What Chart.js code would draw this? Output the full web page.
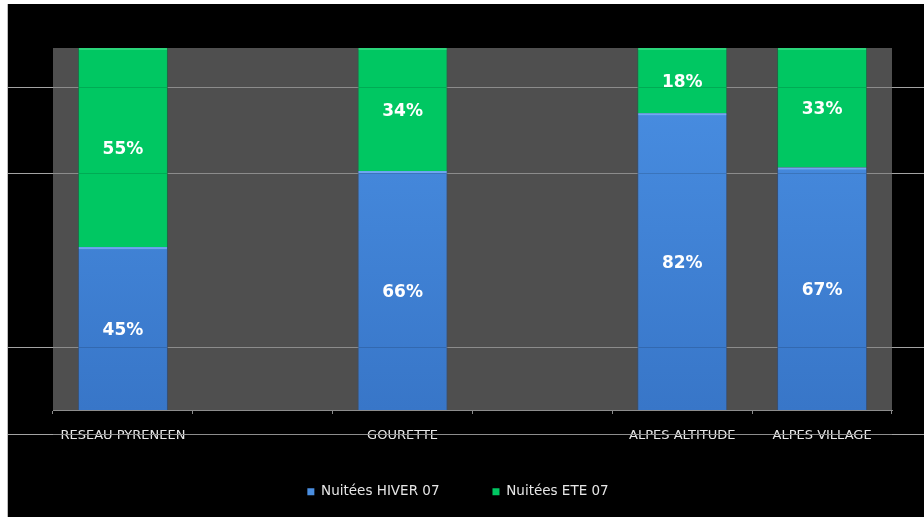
<!DOCTYPE html>
<html>
<head>
<meta charset="utf-8">
<script src="https://cdn.jsdelivr.net/npm/chart.js@4.4.1/dist/chart.umd.min.js"></script>
<style>
  html, body { margin: 0; padding: 0; background: #ffffff; width: 924px; height: 517px; overflow: hidden; }
  #panel { position: absolute; left: 7px; top: 4px; width: 916px; height: 513px; background: #000; border-left: 1px solid #bdbdbd; }
  canvas { display: block; }
</style>
</head>
<body>
<div id="panel"><canvas id="c" width="916" height="513"></canvas></div>
<script>
// ---- data ----
const categories = ["RESEAU PYRENEEN", "", "GOURETTE", "", "ALPES ALTITUDE", "ALPES VILLAGE"];
const seriesNames = ["Nuitées HIVER 07", "Nuitées ETE 07"];
const hiver = [45, null, 66, null, 82, 67];
const ete = [55, null, 34, null, 18, 33];
const yMin = 0;
const yMax = 100;

// decorative horizontal rules of the slide (fractions of panel height)
const ruleFractions = [83/513, 169/513, 343/513, 430/513];

function vGrad(ctx, top, bottom) {
  const chart = ctx.chart;
  const a = chart.chartArea;
  if (!a) return top;
  const g = chart.ctx.createLinearGradient(0, a.top, 0, a.bottom);
  g.addColorStop(0, top);
  g.addColorStop(1, bottom);
  return g;
}

const decor = {
  id: 'decor',
  afterLayout(chart) {
    // let the category labels extend below the (compacted) axis box without being clipped
    const x = chart.scales.x;
    if (x) x.bottom = chart.height;
  },
  beforeDraw(chart) {
    const {ctx, chartArea: a} = chart;
    ctx.save();
    ctx.fillStyle = '#4f4f4f';
    ctx.fillRect(a.left, a.top, a.right - a.left, a.bottom - a.top);
    ctx.restore();
  },
  beforeDatasetsDraw(chart) {
    const {ctx, width, height} = chart;
    ctx.save();
    ctx.strokeStyle = '#a3a3a3';
    ctx.lineWidth = 1;
    ruleFractions.forEach(f => {
      const y = Math.round(f * height) + 0.5;
      ctx.beginPath();
      ctx.moveTo(0, y);
      ctx.lineTo(width, y);
      ctx.stroke();
    });
    ctx.restore();
  },
  afterDatasetsDraw(chart) {
    const {ctx, width, height} = chart;
    ctx.save();
    chart.data.datasets.forEach((ds, di) => {
      const meta = chart.getDatasetMeta(di);
      meta.data.forEach((el, i) => {
        if (ds.data[i] == null) return;
        const w = el.width;
        ctx.fillStyle = di === 0 ? 'rgba(140,190,255,0.6)' : 'rgba(120,240,170,0.35)';
        ctx.fillRect(el.x - w / 2 + 1, el.y, w - 2, 2);
      });
    });
    ctx.strokeStyle = 'rgba(0,0,0,0.14)';
    ruleFractions.forEach(f => {
      const y = Math.round(f * height) + 0.5;
      ctx.beginPath();
      ctx.moveTo(chart.chartArea.left, y);
      ctx.lineTo(chart.chartArea.right, y);
      ctx.stroke();
    });
    ctx.fillStyle = '#ffffff';
    ctx.font = 'bold 17px "DejaVu Sans"';
    ctx.textAlign = 'center';
    ctx.textBaseline = 'middle';
    chart.data.datasets.forEach((ds, di) => {
      const meta = chart.getDatasetMeta(di);
      meta.data.forEach((el, i) => {
        const v = ds.data[i];
        if (v == null) return;
        ctx.fillText(v + '%', el.x, (el.y + el.base) / 2 + 2);
      });
    });
    ctx.restore();
  }
};

new Chart(document.getElementById('c'), {
  type: 'bar',
  data: {
    labels: categories,
    datasets: [
      {
        label: seriesNames[0],
        data: hiver,
        backgroundColor: (ctx) => vGrad(ctx, '#4a90e4', '#3876c8'),
        borderColor: 'rgba(40,80,140,0.6)',
        borderWidth: {left: 1, right: 1, top: 0, bottom: 0},
        borderSkipped: false,
        barPercentage: 0.92,
        categoryPercentage: 0.7
      },
      {
        label: seriesNames[1],
        data: ete,
        backgroundColor: '#00c762',
        borderColor: 'rgba(0,120,60,0.6)',
        borderWidth: {left: 1, right: 1, top: 0, bottom: 0},
        borderSkipped: false,
        barPercentage: 0.92,
        categoryPercentage: 0.7
      }
    ]
  },
  options: {
    responsive: false,
    animation: false,
    layout: { padding: { left: 0, right: 16, top: 44, bottom: 8.5 } },
    plugins: {
      tooltip: { enabled: false },
      legend: {
        position: 'bottom',
        labels: {
          color: '#e6e6e6',
          font: { family: '"DejaVu Sans"', size: 13.5 },
          boxWidth: 7,
          boxHeight: 7,
          padding: 53,
          generateLabels(chart) {
            return chart.data.datasets.map((ds, i) => ({
              text: ds.label,
              fillStyle: i === 0 ? '#4a8ee0' : '#00c762',
              strokeStyle: i === 0 ? '#4a8ee0' : '#00c762',
              lineWidth: 0,
              fontColor: '#e6e6e6',
              datasetIndex: i
            }));
          }
        }
      }
    },
    scales: {
      x: {
        stacked: true,
        grid: { display: true, drawOnChartArea: false, drawTicks: true, tickLength: 4, color: '#8c8c8c', offset: true },
        border: { display: true, color: '#8c8c8c' },
        ticks: { color: '#e8e8e8', font: { family: '"DejaVu Sans"', size: 13 }, padding: 14, maxRotation: 0, autoSkip: false },
        afterFit(scale) { scale.height = 22; }
      },
      y: {
        stacked: true,
        min: yMin,
        max: yMax,
        display: true,
        grid: { display: false },
        border: { display: false },
        ticks: { display: false },
        afterFit(scale) { scale.width = 45; }
      },
      y2: {
        position: 'right',
        display: true,
        grid: { display: false },
        border: { display: false },
        ticks: { display: false },
        afterFit(scale) { scale.width = 16; }
      }
    }
  },
  plugins: [decor]
});
</script>
</body>
</html>
